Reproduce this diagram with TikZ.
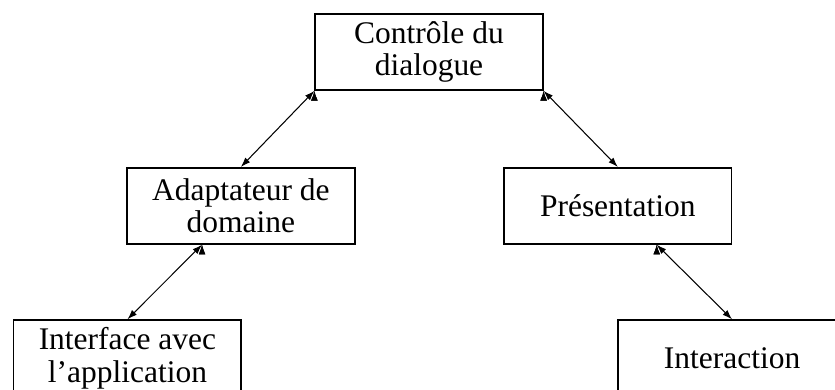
\documentclass[tikz,border=0pt]{standalone}
\usepackage{fontspec}
\setmainfont{Liberation Serif}
\usetikzlibrary{positioning,arrows.meta}

\begin{document}
\begin{tikzpicture}[x=0.0134cm,y=0.0134cm,node distance=1.02cm,
    bloc/.style={draw,line width=0.6pt,minimum width=3.05cm,minimum height=1.02cm,
        align=center,inner sep=2pt,font=\fontsize{12}{12.4}\selectfont},
    lien/.style={{Latex[length=1.3mm,width=0.9mm]}-{Latex[length=1.3mm,width=0.9mm]},line width=0.4pt}]
    \clip (0,0) rectangle (835,390);
    \node[bloc] (ctrl) at (429,338) {Contrôle du\\dialogue};
    \node[bloc] (adapt) [below = of ctrl, xshift=-2.52cm] {Adaptateur de\\domaine};
    \node[bloc] (pres)  [below = of ctrl, xshift=2.53cm]  {Présentation};
    \node[bloc] (iface) [below = 1.0cm of adapt, xshift=-1.52cm] {Interface avec\\l’application};
    \node[bloc] (inter) [below = 1.0cm of pres, xshift=1.53cm]   {Interaction};
    \draw[lien] (ctrl.south west)
        edge (adapt.north);
    \draw[lien] (ctrl.south east)
        edge (pres.north);
    \draw[lien] (adapt.225)
        edge (iface.north);
    \draw[lien] (pres.-45)
        edge (inter.north);
\end{tikzpicture}
\end{document}
